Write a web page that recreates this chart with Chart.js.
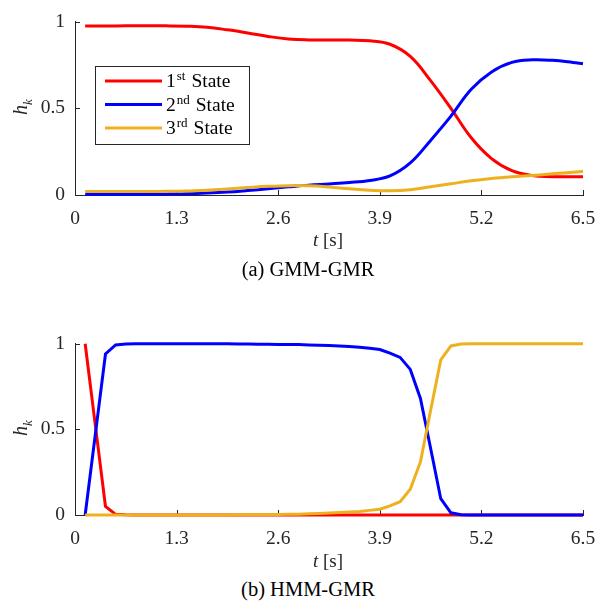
<!DOCTYPE html>
<html>
<head>
<meta charset="utf-8">
<script src="https://cdn.jsdelivr.net/npm/chart.js@4.4.1/dist/chart.umd.min.js"></script>
<style>
body { margin: 0; background: #fff; width: 609px; height: 608px; position: relative; overflow: hidden; font-family: "Liberation Serif", serif; color: #262626; }
.panel { position: absolute; left: 0; width: 609px; height: 250px; }
.ylab { position: absolute; left: 22px; transform: translate(-50%, -50%) rotate(-90deg); font-size: 20px; font-style: italic; white-space: nowrap; }
.ylab sub { font-size: 13px; }
.xlab { position: absolute; left: 328px; transform: translate(-50%, -50%); font-size: 19px; white-space: nowrap; }
.cap { position: absolute; left: 308px; transform: translate(-50%, -50%); font-size: 20.5px; white-space: nowrap; color: #000; }
</style>
</head>
<body>
<div class="panel" style="top:0"><canvas id="gmmChart" width="609" height="250"></canvas></div>
<div class="panel" style="top:322px"><canvas id="hmmChart" width="609" height="250"></canvas></div>
<div class="ylab" style="top:107px"><i>h</i><sub><i>k</i></sub></div>
<div class="ylab" style="top:428px"><i>h</i><sub><i>k</i></sub></div>
<div class="xlab" style="top:240px"><i>t</i> [s]</div>
<div class="xlab" style="top:561px"><i>t</i> [s]</div>
<div class="cap" style="top:269px">(a) GMM-GMR</div>
<div class="cap" style="top:589px">(b) HMM-GMR</div>
<script>
// state labels
const stateNums = ["1", "2", "3"];
const stateSuffix = ["st", "nd", "rd"];
const xTicks = [0, 1.3, 2.6, 3.9, 5.2, 6.5];

// (a) GMM-GMR
const tTop = [0.13, 0.39, 0.65, 0.91, 1.17, 1.43, 1.69, 1.95, 2.21, 2.47, 2.73, 2.99, 3.25,
    3.51, 3.77, 4.03, 4.29, 4.55, 4.81, 5.07, 5.33, 5.59, 5.85, 6.11, 6.37, 6.5];
const redTop = [0.975, 0.975, 0.976, 0.976, 0.976, 0.974, 0.968, 0.953, 0.935, 0.915, 0.9, 0.895, 0.895,
    0.894, 0.89, 0.87, 0.8, 0.66, 0.5, 0.33, 0.21, 0.14, 0.112, 0.106, 0.105, 0.105];
const blueTop = [0.003, 0.003, 0.003, 0.004, 0.005, 0.007, 0.011, 0.017, 0.026, 0.036, 0.047, 0.057, 0.064,
    0.072, 0.084, 0.11, 0.185, 0.315, 0.455, 0.61, 0.71, 0.765, 0.78, 0.777, 0.765, 0.757];
const yellowTop = [0.02, 0.02, 0.02, 0.02, 0.021, 0.023, 0.028, 0.035, 0.043, 0.05, 0.054, 0.053, 0.046,
    0.036, 0.028, 0.024, 0.03, 0.048, 0.065, 0.082, 0.095, 0.105, 0.113, 0.122, 0.131, 0.137];

// (b) HMM-GMR
const tBottom = [0.13, 0.26, 0.39, 0.52, 0.65, 0.78, 0.91, 1.04, 1.17, 1.3,
    1.43, 1.56, 1.69, 1.82, 1.95, 2.08, 2.21, 2.34, 2.47, 2.6,
    2.73, 2.86, 2.99, 3.12, 3.25, 3.38, 3.51, 3.64, 3.77, 3.9,
    4.03, 4.16, 4.29, 4.42, 4.55, 4.68, 4.81, 4.94, 5.07, 5.2,
    5.33, 5.46, 5.59, 5.72, 5.85, 5.98, 6.11, 6.24, 6.37, 6.5];
const redBottom = [1, 0.525, 0.05, 0.004, 0.001, 0, 0, 0, 0, 0,
    0, 0, 0, 0, 0, 0, 0, 0, 0, 0,
    0, 0, 0, 0, 0, 0, 0, 0, 0, 0,
    0, 0, 0, 0, 0, 0, 0, 0, 0, 0,
    0, 0, 0, 0, 0, 0, 0, 0, 0, 0];
const blueBottom = [0, 0.47, 0.94, 0.993, 0.998, 0.999, 0.999, 0.999, 0.999, 0.999,
    0.999, 0.999, 0.999, 0.999, 0.999, 0.998, 0.998, 0.997, 0.997, 0.996,
    0.996, 0.995, 0.993, 0.991, 0.989, 0.986, 0.983, 0.979, 0.973, 0.966,
    0.945, 0.92, 0.85, 0.68, 0.39, 0.095, 0.013, 0.002, 0, 0,
    0, 0, 0, 0, 0, 0, 0, 0, 0, 0];
const yellowBottom = [0, 0, 0, 0, 0, 0, 0, 0, 0, 0,
    0, 0, 0, 0, 0, 0.001, 0.001, 0.002, 0.002, 0.003,
    0.004, 0.005, 0.007, 0.009, 0.011, 0.014, 0.017, 0.021, 0.027, 0.034,
    0.053, 0.078, 0.15, 0.31, 0.61, 0.905, 0.987, 0.998, 1, 1,
    1, 1, 1, 1, 1, 1, 1, 1, 1, 1];

const colors = ["#ff0000", "#0000ff", "#edb120"];
const axisColor = "#262626";

const innerTicks = {
    id: "innerTicks",
    beforeDatasetsDraw(chart) {
        const { ctx, chartArea, scales } = chart;
        ctx.save();
        ctx.strokeStyle = axisColor;
        ctx.lineWidth = 1;
        ctx.beginPath();
        scales.x.ticks.forEach(tk => {
            const px = Math.round(scales.x.getPixelForValue(tk.value)) + 0.5;
            ctx.moveTo(px, chartArea.bottom);
            ctx.lineTo(px, chartArea.bottom - 5);
        });
        scales.y.ticks.forEach(tk => {
            const py = Math.round(scales.y.getPixelForValue(tk.value)) + 0.5;
            ctx.moveTo(chartArea.left, py);
            ctx.lineTo(chartArea.left + 5, py);
        });
        ctx.stroke();
        ctx.restore();
    }
};

const stateLegend = {
    id: "stateLegend",
    afterDraw(chart) {
        if (!chart.options.plugins.stateLegend.show) return;
        const ctx = chart.ctx;
        ctx.save();
        ctx.fillStyle = "#fff";
        ctx.fillRect(95, 66, 154, 78);
        ctx.strokeStyle = axisColor;
        ctx.lineWidth = 1;
        ctx.strokeRect(95.5, 66.5, 154, 78);
        ctx.textBaseline = "alphabetic";
        ctx.fillStyle = "#000";
        stateNums.forEach((n, i) => {
            const y = 81 + i * 23.5;
            ctx.strokeStyle = colors[i];
            ctx.lineWidth = 3;
            ctx.beginPath();
            ctx.moveTo(105, y);
            ctx.lineTo(162, y);
            ctx.stroke();
            let x = 166;
            ctx.font = '19.5px "Liberation Serif"';
            ctx.fillText(n, x, y + 6);
            x += ctx.measureText(n).width + 1;
            ctx.font = '13px "Liberation Serif"';
            ctx.fillText(stateSuffix[i], x, y - 1);
            x += ctx.measureText(stateSuffix[i]).width + 6;
            ctx.font = '19.5px "Liberation Serif"';
            ctx.fillText("State", x, y + 6);
        });
        ctx.restore();
    }
};

function pts(t, v) {
    return t.map((x, i) => ({ x: x, y: v[i] }));
}

function makeChart(id, t, series, smooth, xHeight, legend) {
    return new Chart(document.getElementById(id), {
        type: "line",
        data: {
            datasets: series.map((s, i) => ({
                label: stateNums[i] + stateSuffix[i] + " State",
                data: pts(t, s),
                borderColor: colors[i],
                backgroundColor: colors[i],
                borderWidth: 3,
                pointRadius: 0,
                tension: smooth ? 0.4 : 0,
                clip: 6,
                order: 3 - i
            }))
        },
        options: {
            responsive: false,
            devicePixelRatio: 1,
            animation: false,
            layout: { padding: { top: 14, right: 26, bottom: 0, left: 0 } },
            plugins: {
                legend: { display: false },
                tooltip: { enabled: false },
                stateLegend: { show: legend }
            },
            scales: {
                x: {
                    type: "linear",
                    min: 0,
                    max: 6.5,
                    afterFit: s => { s.height = xHeight; },
                    afterBuildTicks: s => { s.ticks = xTicks.map(v => ({ value: v })); },
                    grid: { display: false, drawTicks: false },
                    border: { display: true, color: axisColor, width: 1 },
                    ticks: {
                        padding: 12,
                        color: axisColor,
                        font: { family: "Liberation Serif", size: 19.5 },
                        maxRotation: 0,
                        callback: v => String(Math.round(v * 10) / 10)
                    }
                },
                y: {
                    min: 0,
                    max: 1,
                    afterFit: s => { s.width = 75; },
                    grid: { display: false, drawTicks: false },
                    border: { display: true, color: axisColor, width: 1 },
                    ticks: {
                        stepSize: 0.5,
                        padding: 10,
                        color: axisColor,
                        font: { family: "Liberation Serif", size: 19.5 },
                        callback: v => String(v)
                    }
                }
            }
        },
        plugins: [innerTicks, stateLegend]
    });
}

makeChart("gmmChart", tTop, [redTop, blueTop, yellowTop], true, 55, true);
makeChart("hmmChart", tBottom, [redBottom, blueBottom, yellowBottom], false, 57, false);
</script>
</body>
</html>
